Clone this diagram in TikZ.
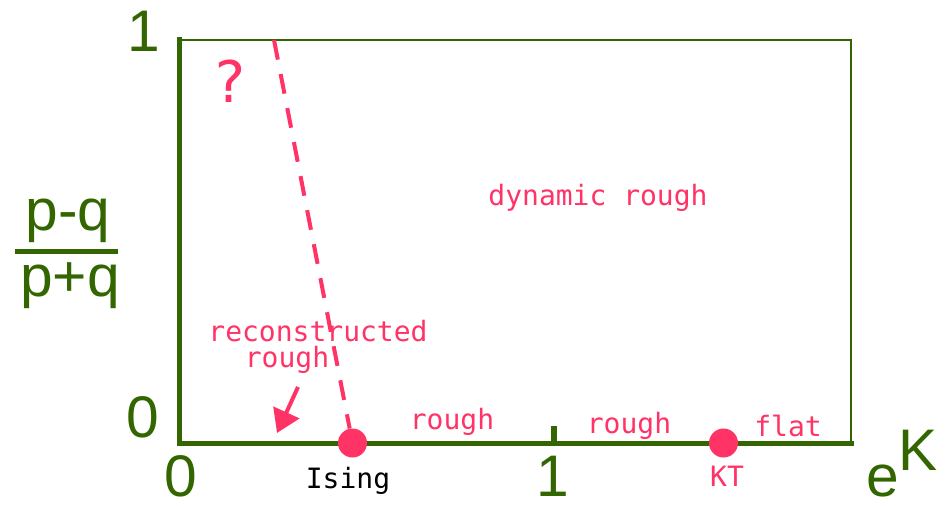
\documentclass[tikz,border=0pt]{standalone}
\usepackage{fontspec}
\setmainfont{Liberation Sans}
\newfontfamily\phasefont{DejaVu Sans Mono}
\usetikzlibrary{arrows.meta}

\definecolor{axisgreen}{RGB}{51,102,0}
\definecolor{phasepink}{RGB}{255,51,102}

\tikzset{
  axislabel/.style={text=axisgreen, font=\fontsize{44}{44}\selectfont, inner sep=0pt},
  phase/.style={text=phasepink, font=\phasefont\fontsize{21}{21}\selectfont, inner sep=0pt},
  crit/.style={circle, fill=phasepink, minimum size=21.75pt, inner sep=0pt},
}

\begin{document}
\begin{tikzpicture}[x=0.75pt, y=-0.75pt]
  \useasboundingbox (0,0) rectangle (948,506);

  %----- frame and axes -----
  \coordinate (o) at (179,443);
  \draw[axisgreen, line width=1.5pt] (179,40) -- (851,40) -- (851,443);
  \draw[axisgreen, line width=3.75pt, line cap=rect] (179,40) -- (o) -- (851,443);
  \draw[axisgreen, line width=4.5pt] (553.5,426) -- (553.5,443);

  %----- axis labels -----
  \node[axislabel] (ytop)  at (144,31)  {1};
  \node[axislabel] (yzero) at (143,417) {0};
  \node[axislabel] (xzero) at (181,476) {0};
  \node[axislabel] (xone)  at (553,476) {1};
  \node[axislabel, anchor=base west] (ek) at (866,496) {e\raisebox{19.5pt}{K}};
  % fraction (p-q)/(p+q)
  \node[axislabel, anchor=base] (num) at (68,230) {p-q};
  \node[axislabel, anchor=base] (den) at (70,296) {p+q};
  \draw[axisgreen, line width=3.75pt] (15,251.5) -- (118,251.5);

  %----- critical points -----
  \node[crit] (ising) at (352.5,443) {};
  \node[crit] (kt)    at (723.5,443) {};
  \node[phase, text=black] (isinglab) at (348,481) {Ising};
  \node[phase] (ktlab) at (727,476) {KT};

  %----- phase names -----
  \node[phase, font=\phasefont\fontsize{43}{43}\selectfont] (qmark) at (230,81) {?};
  \node[phase] (dyn)    at (598,198) {dynamic rough};
  \node[phase] (recon)  at (318,331) {reconstructed};
  \node[phase] (reconr) at (287,360) {rough};
  \node[phase] (rougha) at (452,422) {rough};
  \node[phase] (roughb) at (629,426) {rough};
  \node[phase] (flat)   at (788,426) {flat};

  %----- phase boundary and arrow -----
  \coordinate (btop) at (274,40);
  \draw[phasepink, line width=3pt, dash pattern=on 15pt off 11pt] (btop) -- (ising);
  \coordinate (astart) at (298,387);
  \coordinate (aend)   at (277,433);
  \draw[phasepink, line width=3pt, -{Triangle[length=17pt, width=21pt]}] (astart) -- (aend);
\end{tikzpicture}
\end{document}
